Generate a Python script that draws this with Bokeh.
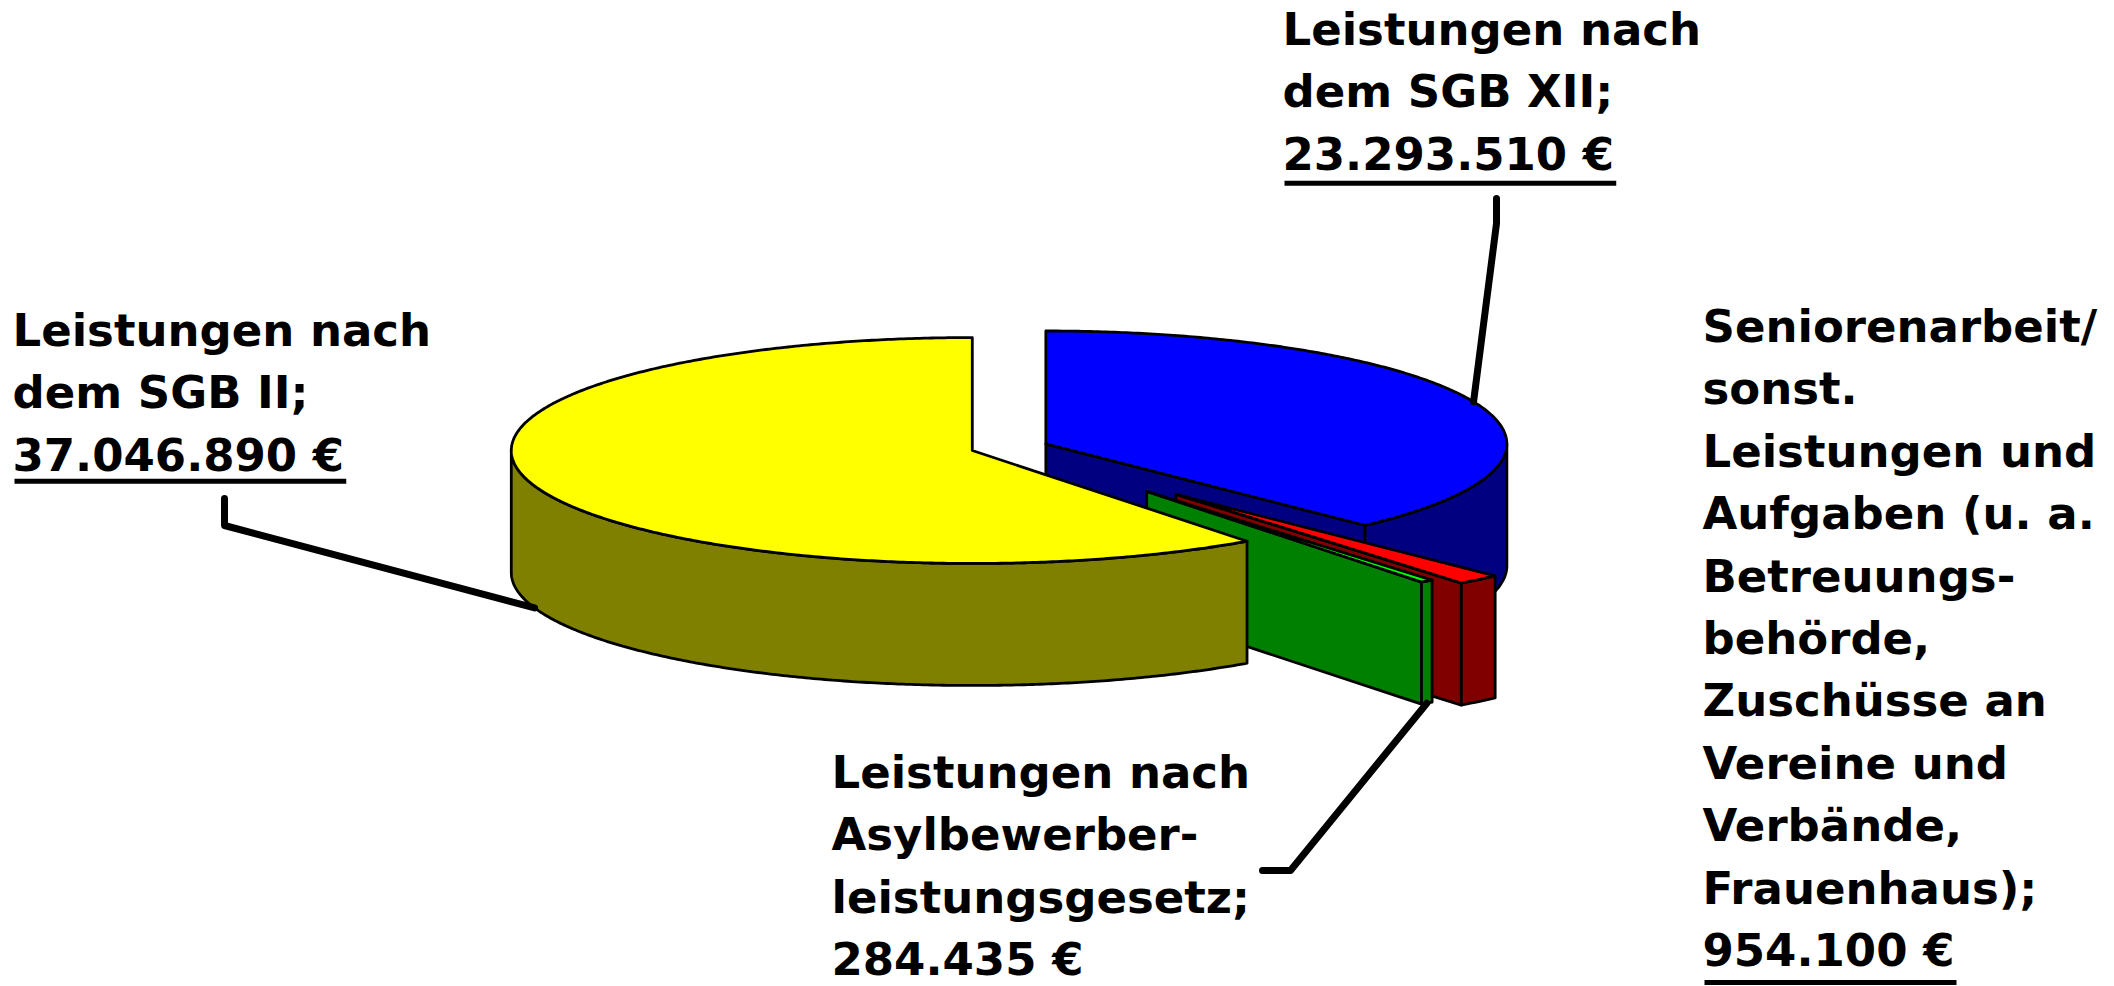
import numpy as np
from bokeh.plotting import figure
from bokeh.models import Range1d
from bokeh.core.properties import value
from bokeh.embed import file_html
from bokeh.resources import INLINE

# ---------------- data ----------------
categories = [
    "Leistungen nach dem SGB XII",
    "Seniorenarbeit/sonst. Leistungen und Aufgaben",
    "Leistungen nach Asylbewerberleistungsgesetz",
    "Leistungen nach dem SGB II",
]
amounts = [23293510, 954100, 284435, 37046890]
top_colors = ["#0000FF", "#FF0000", "#00FF00", "#FFFF00"]
side_colors = ["#000080", "#800000", "#008000", "#808000"]
explode = [0.085, 0.55, 0.49, 0.085]

label_lines = [
    ["Leistungen nach", "dem SGB XII;"],
    ["Seniorenarbeit/", "sonst.", "Leistungen und", "Aufgaben (u. a.",
     "Betreuungs-", "behörde,", "Zuschüsse an", "Vereine und",
     "Verbände,", "Frauenhaus);"],
    ["Leistungen nach", "Asylbewerber-", "leistungsgesetz;"],
    ["Leistungen nach", "dem SGB II;"],
]
value_underlined = [True, True, False, True]

# ---------------- layout / style ----------------
W, H = 2114, 986
CX, CY = 1009.0, 447.0     # pie centre (screen px)
R = 461.0                  # radius
TILT = 0.245               # vertical squash of the ellipse
DEPTH = 122.0              # height of the pie wall
OUTLINE = 2.8

FONT = "DejaVu Sans"
FSIZE = 45
LINE_H = 62.4
TEXT_DY = -17              # renderer baseline correction
label_pos = [(1282, 46), (1702, 343), (831, 789), (12, 347)]
underline_gap = [12, 15, 0, 9]
# leader: two label-side points, third point = anchor on slice (computed)
leader_pts = [[(1496, 198), (1496, 223)], None,
              [(1262, 870), (1290, 870)], [(224, 498), (224, 525)]]

p = figure(width=W, height=H, x_range=Range1d(0, W), y_range=Range1d(H, 0),
           output_backend="svg", toolbar_location=None, min_border=0,
           x_axis_type=None, y_axis_type=None)
p.grid.visible = False
p.outline_line_color = None
p.background_fill_color = "white"
p.border_fill_color = "white"

total = float(sum(amounts))
fracs = [a / total for a in amounts]

slices = []
cum = 0.0
for i, f in enumerate(fracs):
    a0 = 90.0 - cum * 360.0
    a1 = a0 - f * 360.0
    cum += f
    mid = 0.5 * (a0 + a1)
    e = explode[i] * R
    cx = CX + e * np.cos(np.radians(mid))
    cy = CY - e * TILT * np.sin(np.radians(mid))
    slices.append(dict(i=i, a0=a0, a1=a1, mid=mid, cx=cx, cy=cy))


def rim(cx, cy, ang, bottom=False):
    t = np.radians(ang)
    return cx + R * np.cos(t), cy - R * TILT * np.sin(t) + (DEPTH if bottom else 0.0)


def arc(cx, cy, a_from, a_to, bottom=False):
    n = max(4, int(abs(a_to - a_from) / 0.5))
    ang = np.linspace(a_from, a_to, n)
    t = np.radians(ang)
    xs = cx + R * np.cos(t)
    ys = cy - R * TILT * np.sin(t) + (DEPTH if bottom else 0.0)
    return list(xs), list(ys)


def front_dist(s):
    # angular distance of the slice from the front (270 deg)
    best = 999
    for k in range(-2, 3):
        f = -90 + 360 * k
        if s["a1"] <= f <= s["a0"]:
            return 0.0
        best = min(best, abs(f - s["a0"]), abs(f - s["a1"]))
    return best


def draw_patch(xs, ys, color):
    p.patch(xs, ys, fill_color=color, line_color="black",
            line_width=OUTLINE, line_join="round")


order = sorted(slices, key=lambda s: -front_dist(s))
for s in order:
    i = s["i"]
    cx, cy, a0, a1 = s["cx"], s["cy"], s["a0"], s["a1"]
    # radial faces
    for ang, normal in ((a1, a1 - 90.0), (a0, a0 + 90.0)):
        if np.sin(np.radians(normal)) < -1e-6:
            xt, yt = rim(cx, cy, ang)
            xb, yb = rim(cx, cy, ang, True)
            draw_patch([cx, xt, xb, cx], [cy, yt, yb, cy + DEPTH], side_colors[i])
    # outer wall, visible (front) part
    for k in range(-2, 2):
        lo = max(a1, -180.0 + 360 * k)
        hi = min(a0, 0.0 + 360 * k)
        if hi - lo > 1e-6:
            xt, yt = arc(cx, cy, lo, hi)
            xb, yb = arc(cx, cy, hi, lo, True)
            draw_patch(xt + xb, yt + yb, side_colors[i])
    # top face
    xs, ys = arc(cx, cy, a0, a1)
    draw_patch([cx] + xs + [cx], [cy] + ys + [cy], top_colors[i])

# ---------------- leader lines ----------------
for s in slices:
    i = s["i"]
    if leader_pts[i] is None:
        continue
    bottom = np.sin(np.radians(s["mid"])) < 0
    ax, ay = rim(s["cx"], s["cy"], s["mid"], bottom)
    pts = leader_pts[i] + [(ax, ay)]
    p.line([q[0] for q in pts], [q[1] for q in pts], line_color="black",
           line_width=7, line_cap="round", line_join="round")

# ---------------- labels ----------------
DIGIT_W = {".": 380, " ": 348, "€": 696}


def text_width(t):
    return sum(DIGIT_W.get(c, 696) for c in t) / 1000.0 * FSIZE


for i, lines in enumerate(label_lines):
    val = "{:,}".format(amounts[i]).replace(",", ".") + " €"
    all_lines = lines + [val]
    x0, y0 = label_pos[i]
    ys = [y0 + k * LINE_H for k in range(len(all_lines))]
    p.text(x=[x0] * len(all_lines), y=[y + TEXT_DY for y in ys], text=all_lines,
           text_font=value(FONT), text_font_style="bold",
           text_font_size=f"{FSIZE}px", text_baseline="alphabetic",
           text_align="left", text_color="black")
    if value_underlined[i]:
        uy = ys[-1] + underline_gap[i]
        p.line([x0 + 2, x0 + 2 + text_width(val)], [uy, uy],
               line_color="black", line_width=5)

open("out.html", "w").write(file_html(p, INLINE))
